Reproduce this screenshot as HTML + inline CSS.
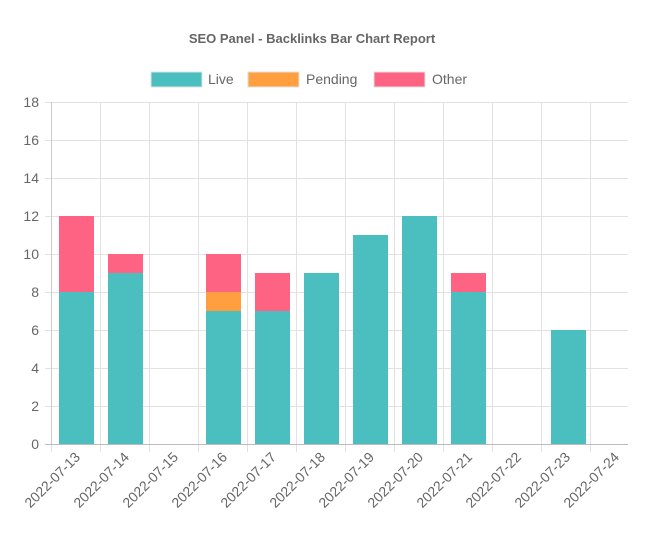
<!DOCTYPE html><html><head><style>body{margin:0;background:#fff}svg{display:block;font-family:"Liberation Sans",Arial,sans-serif}</style></head><body>
<svg width="664" height="541" viewBox="0 0 664 541">
<text x="312" y="43" text-anchor="middle" font-size="13" font-weight="bold" fill="#666">SEO Panel - Backlinks Bar Chart Report</text>
<rect x="151" y="72" width="51" height="15" fill="#4bbfbf" stroke="#e0e0e0"/><text x="208" y="84" font-size="14" fill="#666">Live</text>
<rect x="248" y="72" width="51" height="15" fill="#ff9f40" stroke="#e0e0e0"/><text x="306" y="84" font-size="14" fill="#666">Pending</text>
<rect x="374" y="72" width="51" height="15" fill="#ff6384" stroke="#e0e0e0"/><text x="432" y="84" font-size="14" fill="#666">Other</text>
<g stroke="#e2e2e2" stroke-width="1">
<line x1="45" y1="102.5" x2="628" y2="102.5"/><line x1="45" y1="140.5" x2="628" y2="140.5"/><line x1="45" y1="178.5" x2="628" y2="178.5"/><line x1="45" y1="216.5" x2="628" y2="216.5"/><line x1="45" y1="254.5" x2="628" y2="254.5"/><line x1="45" y1="292.5" x2="628" y2="292.5"/><line x1="45" y1="330.5" x2="628" y2="330.5"/><line x1="45" y1="368.5" x2="628" y2="368.5"/><line x1="45" y1="406.5" x2="628" y2="406.5"/>
<line x1="51.5" y1="102" x2="51.5" y2="452"/><line x1="100.5" y1="102" x2="100.5" y2="452"/><line x1="149.5" y1="102" x2="149.5" y2="452"/><line x1="198.5" y1="102" x2="198.5" y2="452"/><line x1="247.5" y1="102" x2="247.5" y2="452"/><line x1="296.5" y1="102" x2="296.5" y2="452"/><line x1="345.5" y1="102" x2="345.5" y2="452"/><line x1="394.5" y1="102" x2="394.5" y2="452"/><line x1="443.5" y1="102" x2="443.5" y2="452"/><line x1="492.5" y1="102" x2="492.5" y2="452"/><line x1="541.5" y1="102" x2="541.5" y2="452"/><line x1="590.5" y1="102" x2="590.5" y2="452"/>
</g>
<g font-size="14" fill="#666" text-anchor="end">
<text x="39" y="107">18</text><text x="39" y="145">16</text><text x="39" y="183">14</text><text x="39" y="221">12</text><text x="39" y="259">10</text><text x="39" y="297">8</text><text x="39" y="335">6</text><text x="39" y="373">4</text><text x="39" y="411">2</text><text x="39" y="449">0</text>
</g>
<g fill="#4bbfbf">
<rect x="59" y="292" width="35" height="152"/><rect x="108" y="273" width="35" height="171"/><rect x="206" y="311" width="35" height="133"/><rect x="255" y="311" width="35" height="133"/><rect x="304" y="273" width="35" height="171"/><rect x="353" y="235" width="35" height="209"/><rect x="402" y="216" width="35" height="228"/><rect x="451" y="292" width="35" height="152"/><rect x="551" y="330" width="35" height="114"/>
</g>
<rect x="206" y="292" width="35" height="19" fill="#ff9f40"/>
<g fill="#ff6384">
<rect x="59" y="216" width="35" height="76"/><rect x="108" y="254" width="35" height="19"/><rect x="206" y="254" width="35" height="38"/><rect x="255" y="273" width="35" height="38"/><rect x="451" y="273" width="35" height="19"/>
</g>
<line x1="45" y1="444.5" x2="628" y2="444.5" stroke="#bbb"/>
<line x1="51.5" y1="102" x2="51.5" y2="444" stroke="#ccc"/>
<g font-size="14" fill="#666" text-anchor="end">
<text transform="translate(81,458) rotate(-45)">2022-07-13</text>
<text transform="translate(130,458) rotate(-45)">2022-07-14</text>
<text transform="translate(179,458) rotate(-45)">2022-07-15</text>
<text transform="translate(228,458) rotate(-45)">2022-07-16</text>
<text transform="translate(277,458) rotate(-45)">2022-07-17</text>
<text transform="translate(326,458) rotate(-45)">2022-07-18</text>
<text transform="translate(375,458) rotate(-45)">2022-07-19</text>
<text transform="translate(424,458) rotate(-45)">2022-07-20</text>
<text transform="translate(473,458) rotate(-45)">2022-07-21</text>
<text transform="translate(522,458) rotate(-45)">2022-07-22</text>
<text transform="translate(571,458) rotate(-45)">2022-07-23</text>
<text transform="translate(620,458) rotate(-45)">2022-07-24</text>
</g>
</svg></body></html>
